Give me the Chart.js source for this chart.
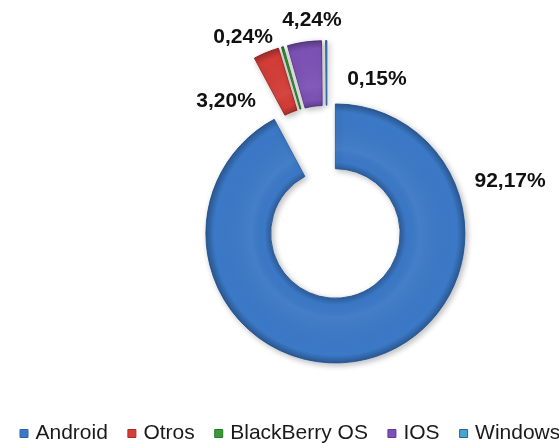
<!DOCTYPE html>
<html>
<head>
<meta charset="utf-8">
<script src="https://cdn.jsdelivr.net/npm/chart.js@4.4.1/dist/chart.umd.min.js"></script>
<style>
  html, body { margin: 0; padding: 0; background: #fff; overflow: hidden; }
  /* wider than the window so the ring centre sits right of the middle, as in the source */
  #wrap { width: 654px; height: 444px; }
</style>
</head>
<body>
<div id="wrap"><canvas id="shareChart"></canvas></div>
<script>
const labels = ["Android", "Otros", "BlackBerry OS", "IOS", "Windows"];
const shares = [92.17, 3.20, 0.24, 4.24, 0.15];

const colors = ["#3b78c6", "#d43d38", "#3a9a3a", "#7d52b6", "#45a6cc"];
const edgeColors = ["#2f64a8", "#a82e2a", "#287a28", "#5f3d94", "#2d5f9e"];

// how far each slice is pulled out from the centre (px)
const pullOut = [34.5, 30, 30, 30, 30];
// where each percentage label sits: degrees clockwise from 12 o'clock, px from the centre
const labelSpots = [[84.2, 184], [314.3, 141], [332.7, 183], [355.2, 180], [22.4, 131]];

// draw every arc shifted along its own mid angle (Excel style explosion),
// with a soft shadow and a bevel shading on top
const explode = {
  id: "explode",
  beforeDatasetDraw(chart, args) {
    const ctx = chart.ctx;
    args.meta.data.forEach((arc, i) => {
      const mid = (arc.startAngle + arc.endAngle) / 2;
      ctx.save();
      ctx.translate(Math.cos(mid) * pullOut[i], Math.sin(mid) * pullOut[i]);

      ctx.save();
      ctx.shadowColor = "rgba(0, 0, 0, 0.28)";
      ctx.shadowBlur = 6;
      ctx.shadowOffsetX = 2;
      ctx.shadowOffsetY = 2;
      arc.draw(ctx);
      ctx.restore();

      const inner = arc.innerRadius;
      const outer = arc.outerRadius;
      const bevel = ctx.createRadialGradient(arc.x, arc.y, inner, arc.x, arc.y, outer);
      bevel.addColorStop(0, "rgba(0, 0, 0, 0.2)");
      bevel.addColorStop(0.1, "rgba(0, 0, 0, 0)");
      bevel.addColorStop(0.3, "rgba(255, 255, 255, 0.05)");
      bevel.addColorStop(0.88, "rgba(0, 0, 0, 0)");
      bevel.addColorStop(1, "rgba(0, 0, 0, 0.25)");
      ctx.beginPath();
      ctx.arc(arc.x, arc.y, outer, arc.startAngle, arc.endAngle);
      ctx.arc(arc.x, arc.y, inner, arc.endAngle, arc.startAngle, true);
      ctx.closePath();
      ctx.fillStyle = bevel;
      ctx.fill();
      ctx.restore();
    });
    return false;
  },
};

const pctLabels = {
  id: "pctLabels",
  afterDatasetsDraw(chart) {
    const ctx = chart.ctx;
    const meta = chart.getDatasetMeta(0);
    const data = chart.data.datasets[0].data;
    ctx.save();
    ctx.font = "bold 21px 'Liberation Sans', Arial, sans-serif";
    ctx.fillStyle = "#111";
    ctx.textAlign = "center";
    ctx.textBaseline = "middle";
    meta.data.forEach((arc, i) => {
      const [deg, dist] = labelSpots[i];
      const a = (deg - 90) * Math.PI / 180;
      const x = arc.x + Math.cos(a) * dist;
      const y = arc.y + Math.sin(a) * dist;
      ctx.fillText(data[i].toFixed(2).replace(".", ",") + "%", x, y);
    });
    ctx.restore();
  },
};

const ctx = document.getElementById("shareChart").getContext("2d");

new Chart(ctx, {
  type: "doughnut",
  data: {
    labels: labels,
    datasets: [
      {
        data: shares,
        backgroundColor: colors,
        borderColor: edgeColors,
        borderWidth: 1,
      },
    ],
  },
  options: {
    responsive: true,
    maintainAspectRatio: false,
    animation: false,
    radius: 129.5,
    cutout: "50%",
    layout: { padding: { bottom: -10 } },
    plugins: {
      legend: {
        position: "bottom",
        align: "start",
        labels: {
          usePointStyle: true,
          pointStyle: "rect",
          boxWidth: 2,
          boxHeight: 8,
          padding: 23,
          color: "#1a1a1a",
          font: { family: "'Liberation Sans', Arial, sans-serif", size: 21 },
        },
      },
      tooltip: { enabled: false },
    },
  },
  plugins: [explode, pctLabels],
});
</script>
</body>
</html>
